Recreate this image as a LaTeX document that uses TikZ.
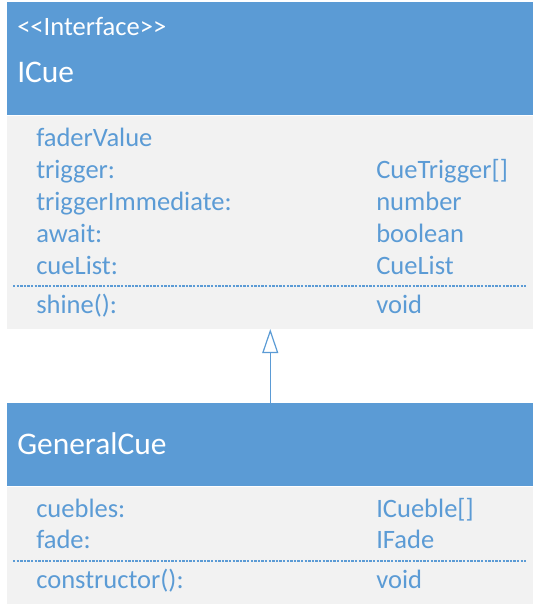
\documentclass[tikz,border=0pt]{standalone}
\usepackage{fontspec}
\setmainfont{Carlito}
\usepackage{tikz}
\usetikzlibrary{arrows.meta,positioning}
\definecolor{umlbleu}{HTML}{5B9BD5}
\definecolor{umlgris}{HTML}{F2F2F2}
\tikzset{
entete/.style={fill=umlbleu,draw=none,minimum width=394.5pt,inner sep=0pt,anchor=north west},
corps/.style={fill=umlgris,draw=none,minimum width=394.5pt,inner sep=0pt},
titre/.style={text=white,inner sep=0pt,anchor=base west,font=\fontsize{23.6}{28}\selectfont},
stereo/.style={text=white,inner sep=0pt,anchor=base west,font=\fontsize{19.9}{24}\selectfont},
attr/.style={text=umlbleu,inner sep=0pt,anchor=base west,font=\fontsize{19.9}{24}\selectfont},
pointille/.style={umlbleu,line width=1.1pt,dash pattern=on 1.8pt off 0.9pt},
heritage/.style={umlbleu,line width=0.9pt,-{Triangle[open,length=18pt,width=12pt]}}
}
\newcommand{\Attribut}[4]{
\node [attr] (#1) at (36,#4) {#2};
\node [attr] (#1type) at (376,#4) {#3};
}

\begin{document}
\begin{tikzpicture}[x=0.75pt,y=-0.75pt]
\useasboundingbox (0,0) rectangle (535,610);
% interface
\node [entete,minimum height=84.75pt] (icuetete) at (7,2) {};
\node [corps,minimum height=159.75pt,below=0pt of icuetete] (icuecorps) {};
\node [stereo] (interface) at (17,36) {<\kern0pt<Interface>\kern0pt>};
\node [titre] (icue) at (17,83) {ICue};
\node [attr] (fader) at (36,146) {faderValue};
\Attribut{trigger}{trigger:}{CueTrigger[]}{178}
\Attribut{immediat}{triggerImmediate:}{number}{210}
\Attribut{await}{await:}{boolean}{242}
\Attribut{cuelist}{cueList:}{CueList}{274}
\draw [pointille] (13,286) -- (526,286);
\Attribut{shine}{shine():}{void}{313}
% classe
\node [entete,minimum height=62.25pt] (generaltete) at (7,403) {};
\node [corps,minimum height=87.75pt,below=0pt of generaltete] (generalcorps) {};
\node [titre] (general) at (17,454) {GeneralCue};
\Attribut{cuebles}{cuebles:}{ICueble[]}{517}
\Attribut{fade}{fade:}{IFade}{548}
\draw [pointille] (13,561) -- (526,561);
\Attribut{constructor}{constructor():}{void}{588}
\draw [heritage] (generaltete.north) -- (icuecorps.south);
\end{tikzpicture}
\end{document}
